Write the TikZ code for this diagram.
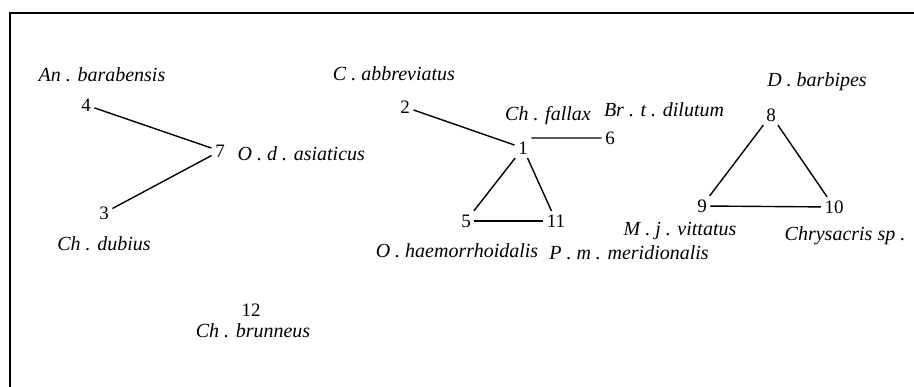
\documentclass[tikz,border=0pt]{standalone}
\usepackage{fontspec}
\setmainfont{Liberation Serif}

\tikzset{
  num/.style={inner sep=3pt,font=\fontsize{19}{19}\selectfont},
  lab/.style={inner sep=0pt,font=\fontsize{20}{20}\selectfont\itshape},
}

\begin{document}
\begin{tikzpicture}[x=1pt,y=-1pt,line width=1.4pt]
  \useasboundingbox (0,0) rectangle (914,387);
  \draw[line width=1.7pt] (10,387) -- (10,13) -- (914,13);

  \node[num] (n4) at (86,105) {4};
  \node[num] (n7) at (220,151) {7};
  \node[num] (n3) at (104,213) {3};
  \node[num] (n2) at (405,107) {2};
  \node[num] (n1) at (523,148) {1};
  \node[num] (n6) at (610,138) {6};
  \node[num] (n5) at (466,221) {5};
  \node[num] (n11) at (556,221) {11};
  \node[num] (n8) at (771,115) {8};
  \node[num] (n9) at (702,206) {9};
  \node[num] (n10) at (834,207) {10};
  \node[num] (n12) at (251,310) {12};

  \node[lab] (l4) at (102,75) {An . barabensis};
  \node[lab,anchor=west] (l7) at (237,154) {O . d . asiaticus};
  \node[lab] (l3) at (104,244) {Ch . dubius};
  \node[lab] (l2) at (394,74) {C . abbreviatus};
  \node[lab] (l1) at (548,116) {Ch . fallax};
  \node[lab] (l6) at (664,110) {Br . t . dilutum};
  \node[lab] (l5) at (457,251) {O . haemorrhoidalis};
  \node[lab] (l11) at (629,253) {P . m . meridionalis};
  \node[lab] (l8) at (817,82) {D . barbipes};
  \node[lab] (l9) at (680,231) {M . j . vittatus};
  \node[lab] (l10) at (845,236) {Chrysacris sp .};
  \node[lab] (l12) at (253,331) {Ch . brunneus};

  \draw (n4) -- (n7);
  \draw (n3) -- (n7);
  \draw (n2) -- (n1);
  \draw (n1.north east) -- (n6.west);
  \draw (n1) -- (n5);
  \draw (n1) -- (n11);
  \draw (n5) -- (n11);
  \draw (n8) -- (n9);
  \draw (n8) -- (n10);
  \draw (n9) -- (n10);
\end{tikzpicture}
\end{document}
